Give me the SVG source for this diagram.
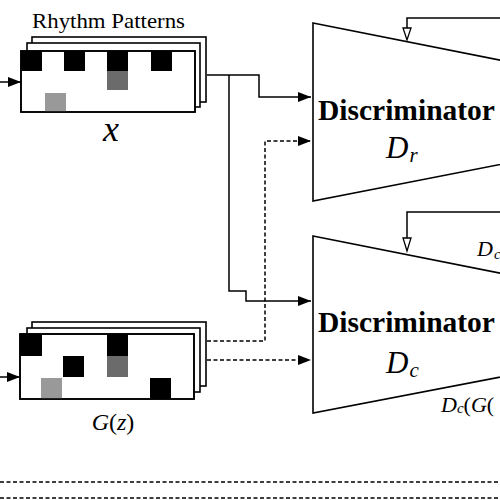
<svg xmlns="http://www.w3.org/2000/svg" width="500" height="500" viewBox="0 0 500 500">
<defs>
<marker id="ah" markerWidth="14" markerHeight="10" refX="13" refY="5" orient="auto" markerUnits="userSpaceOnUse">
<path d="M0,0 L13,5 L0,10 Z" fill="#000"/>
</marker>
<style>
.sheet{fill:#fff;stroke:#000;stroke-width:1.6}
.frame{fill:none;stroke:#000;stroke-width:1.6}
.blk{fill:#000}
.dg{fill:#6b6b6b}
.lg{fill:#999}
.ln{fill:none;stroke:#000;stroke-width:1.5}
.dl{fill:none;stroke:#000;stroke-width:1.5;stroke-dasharray:4 2.5}
.trap{fill:#fff;stroke:#000;stroke-width:1.6}
.tri{fill:#fff;stroke:#000;stroke-width:1.3}
.t{font-family:"Liberation Serif","Times New Roman",serif;fill:#000}
.b{font-weight:bold}
.i{font-style:italic}
</style>
</defs>
<rect width="500" height="500" fill="#fff"/>

<g id="connectors">
<line class="ln" x1="0" y1="82" x2="21" y2="82" marker-end="url(#ah)"/>
<line class="ln" x1="0" y1="377" x2="20" y2="377" marker-end="url(#ah)"/>
<polyline class="ln" points="207,75 259,75 259,97 311,97" marker-end="url(#ah)"/>
<polyline class="ln" points="229,75 229,291 246,291 246,301 311,301" marker-end="url(#ah)"/>
<polyline class="dl" points="207,341 265,341 265,141 311,141" marker-end="url(#ah)"/>
<line class="dl" x1="207" y1="360" x2="311" y2="360" marker-end="url(#ah)"/>
<polyline class="ln" points="520,18 407,18 407,28"/>
<polyline class="ln" points="520,212 407,212 407,238"/>
<path class="tri" d="M403,28 L411,28 L407,40 Z"/>
<path class="tri" d="M403,238 L411,238 L407,251 Z"/>
<line class="dl" x1="0" y1="482" x2="500" y2="482"/>
<line class="dl" x1="0" y1="498" x2="500" y2="498"/>
</g>

<g id="real-patterns">
<text class="t" x="32" y="28" font-size="21" textLength="153" lengthAdjust="spacingAndGlyphs">Rhythm Patterns</text>
<rect class="sheet" x="32" y="37" width="174" height="65"/>
<rect class="sheet" x="27" y="43" width="173" height="64"/>
<rect class="sheet" x="21" y="51" width="174" height="61"/>
<rect class="blk" x="21" y="51" width="21" height="20"/>
<rect class="blk" x="64" y="51" width="21" height="20"/>
<rect class="blk" x="107" y="51" width="21" height="20"/>
<rect class="dg" x="107" y="71" width="21" height="19"/>
<rect class="blk" x="151" y="51" width="21" height="20"/>
<rect class="lg" x="45" y="93" width="21" height="19"/>
<rect class="frame" x="21" y="51" width="174" height="61"/>
<text class="t i" x="111" y="141" font-size="36" text-anchor="middle">x</text>
</g>

<g id="generated-patterns">
<rect class="sheet" x="32" y="322" width="174" height="64"/>
<rect class="sheet" x="27" y="328" width="173" height="64"/>
<rect class="sheet" x="20" y="334" width="174" height="65"/>
<rect class="blk" x="20" y="334" width="22" height="22"/>
<rect class="blk" x="63" y="356" width="21" height="21"/>
<rect class="blk" x="107" y="334" width="21" height="22"/>
<rect class="dg" x="107" y="356" width="21" height="21"/>
<rect class="lg" x="41" y="378" width="21" height="21"/>
<rect class="blk" x="150" y="378" width="21" height="21"/>
<rect class="frame" x="20" y="334" width="174" height="65"/>
<text class="t" x="113" y="430" font-size="24" text-anchor="middle"><tspan class="i">G</tspan>(<tspan class="i">z</tspan>)</text>
</g>

<g id="discriminator-r">
<polygon class="trap" points="313,23 620,84 620,141 313,201"/>
<text class="t b" x="318" y="120" font-size="29.5">Discriminator</text>
<text class="t i" x="386" y="158" font-size="31">D<tspan font-size="21" dx="1" dy="4">r</tspan></text>
</g>

<g id="discriminator-c">
<polygon class="trap" points="313,236 620,297 620,354 313,413"/>
<text class="t b" x="318" y="332" font-size="29.5">Discriminator</text>
<text class="t i" x="386" y="373" font-size="31">D<tspan font-size="21" dx="1" dy="4">c</tspan></text>
<text class="t i" x="477" y="256" font-size="22">D<tspan font-size="15" dx="1" dy="3">c</tspan></text>
<text class="t" x="441" y="412" font-size="22"><tspan class="i">D</tspan><tspan class="i" font-size="15" dy="1">c</tspan><tspan dy="-1">(</tspan><tspan class="i">G</tspan>(</text>
</g>
</svg>
